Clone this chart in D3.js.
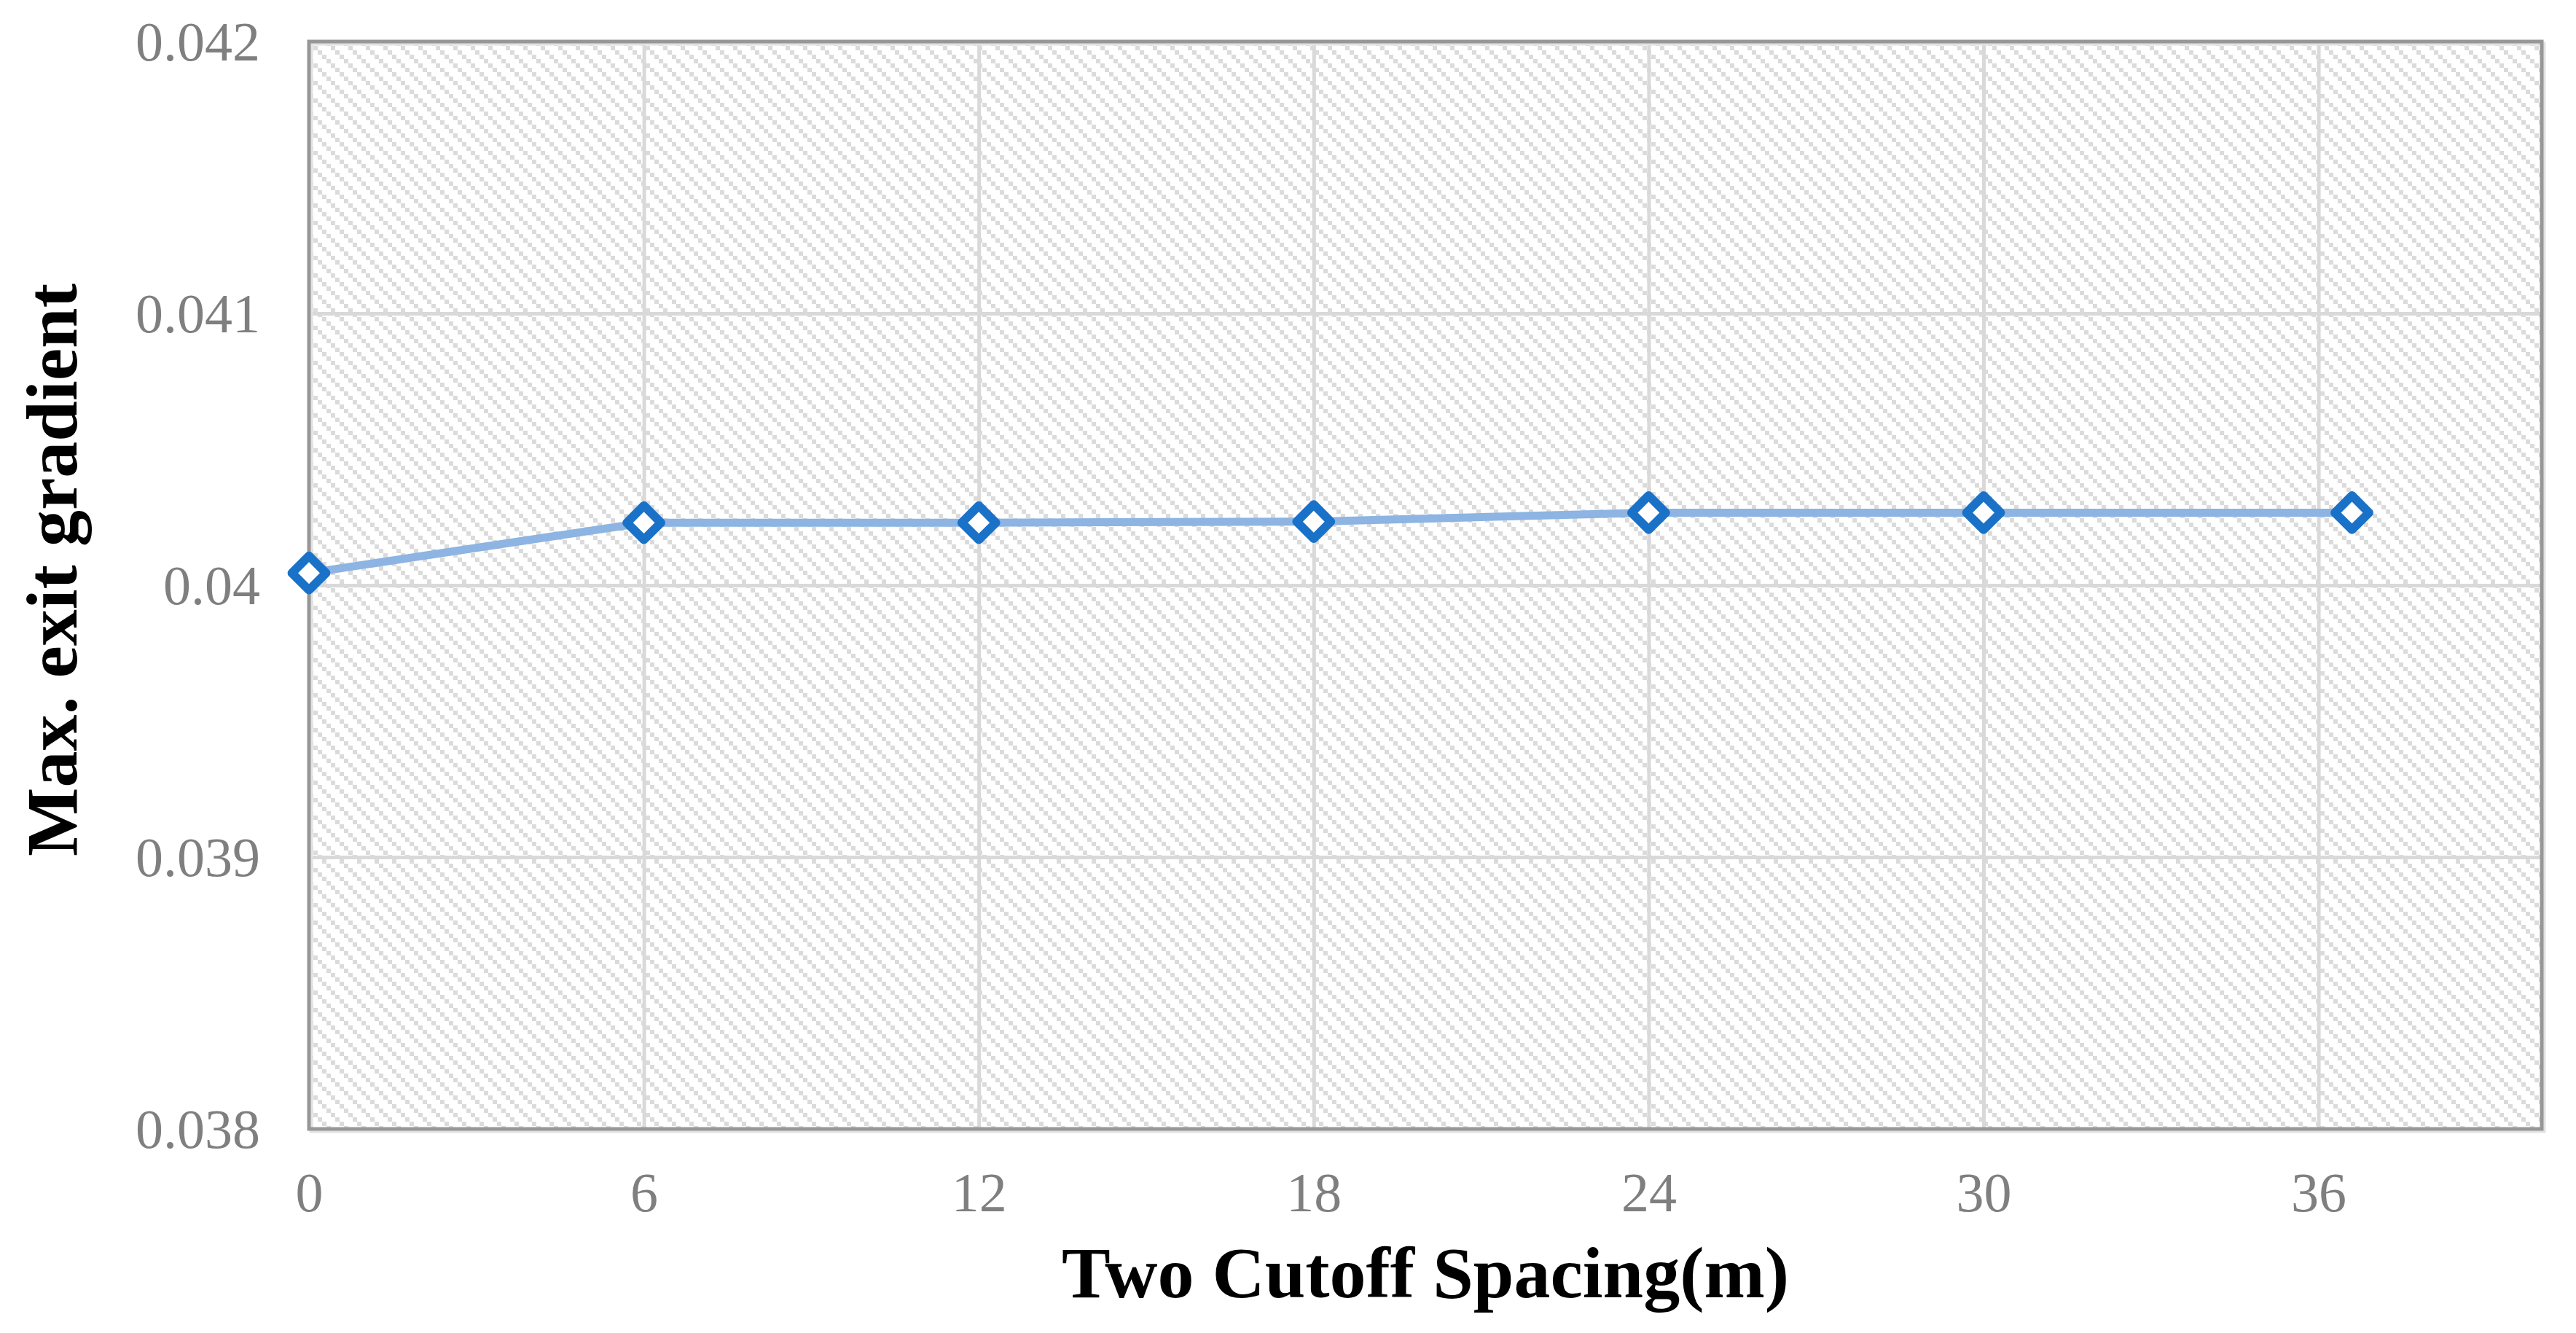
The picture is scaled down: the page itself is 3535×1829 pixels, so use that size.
<!DOCTYPE html>
<html>
<head>
<meta charset="utf-8">
<script src="https://cdnjs.cloudflare.com/ajax/libs/d3/7.8.5/d3.min.js"></script>
<style>
  body { margin: 0; background: #fff; }
  text { font-family: "Liberation Serif", "Times New Roman", serif; }
</style>
</head>
<body>
<div id="graph"></div>
<script>
// chart data
const spacing = [0, 6, 12, 18, 24, 30, 36.6];
const exitGradient = [0.040045, 0.040230, 0.040230, 0.040234, 0.040267, 0.040267, 0.040267];
const xTicks = [0, 6, 12, 18, 24, 30, 36];
const yTicks = [0.038, 0.039, 0.040, 0.041, 0.042];
const yTickLabels = ["0.038", "0.039", "0.04", "0.041", "0.042"];

const w = 3535;
const h = 1829;
const plotLeft = 424, plotRight = 3488, plotTop = 57, plotBottom = 1549;

const xScale = d3.scaleLinear().domain([0, 40]).range([plotLeft, plotRight]);
const yScale = d3.scaleLinear().domain([0.038, 0.042]).range([plotBottom, plotTop]);

const svg = d3.select("#graph")
              .append("svg")
              .attr("width", w)
              .attr("height", h);

svg.append("rect").attr("width", w).attr("height", h).attr("fill", "#fff");

// hatched plot background
const pattern = svg.append("defs")
                   .append("pattern")
                   .attr("id", "hatch")
                   .attr("patternUnits", "userSpaceOnUse")
                   .attr("x", plotLeft).attr("y", plotTop)
                   .attr("width", 24).attr("height", 24);
pattern.append("rect").attr("width", 24).attr("height", 24).attr("fill", "#fff");
[0, 6, 12, 18].forEach((o) => {
  pattern.append("rect").attr("x", o).attr("y", o).attr("width", 6).attr("height", 6).attr("fill", "#dbdbdb");
});

svg.append("rect")
   .attr("x", plotLeft).attr("y", plotTop)
   .attr("width", plotRight - plotLeft).attr("height", plotBottom - plotTop)
   .attr("fill", "url(#hatch)");

const xAxis = d3.axisBottom(xScale)
                .tickValues(xTicks)
                .tickSize(-(plotBottom - plotTop))
                .tickPadding(59)
                .tickFormat(d3.format("d"));

const yAxis = d3.axisLeft(yScale)
                .tickValues(yTicks)
                .tickSize(-(plotRight - plotLeft))
                .tickPadding(67)
                .tickFormat((d, i) => yTickLabels[i]);

const gx = svg.append("g")
              .attr("id", "x-axis")
              .attr("transform", "translate(0, " + plotBottom + ")")
              .call(xAxis);

const gy = svg.append("g")
              .attr("id", "y-axis")
              .attr("transform", "translate(" + plotLeft + ", 0)")
              .call(yAxis);

[gx, gy].forEach((g) => {
  g.select(".domain").remove();
  g.selectAll(".tick line").attr("stroke", "#d9d9d9").attr("stroke-width", 5);
  g.selectAll(".tick text")
   .attr("fill", "#7f7f7f")
   .style("font-size", "76px");
});
gy.selectAll(".tick text").attr("dy", "0.33em");

// plot border with a soft shadow
svg.append("rect")
   .attr("x", plotLeft + 3).attr("y", plotTop + 3)
   .attr("width", plotRight - plotLeft).attr("height", plotBottom - plotTop)
   .attr("fill", "none").attr("stroke", "#e2e2e2").attr("stroke-width", 5);
svg.append("rect")
   .attr("x", plotLeft).attr("y", plotTop)
   .attr("width", plotRight - plotLeft).attr("height", plotBottom - plotTop)
   .attr("fill", "none").attr("stroke", "#979797").attr("stroke-width", 5);

const points = spacing.map((d, i) => [d, exitGradient[i]]);

const line = d3.line()
               .x((d) => xScale(d[0]))
               .y((d) => yScale(d[1]));

svg.append("path")
   .datum(points)
   .attr("d", line)
   .attr("fill", "none")
   .attr("stroke", "#8db4e2")
   .attr("stroke-width", 11)
   .attr("stroke-linejoin", "round");

svg.selectAll(".marker")
   .data(points)
   .enter()
   .append("path")
   .attr("class", "marker")
   .attr("d", d3.symbol().type(d3.symbolSquare).size(1095))
   .attr("transform", (d) => "translate(" + xScale(d[0]) + "," + yScale(d[1]) + ") rotate(45)")
   .attr("fill", "#fff")
   .attr("stroke", "#1a72c8")
   .attr("stroke-width", 12)
   .attr("stroke-linejoin", "round");

svg.append("text")
   .attr("x", (plotLeft + plotRight) / 2)
   .attr("y", 1780)
   .attr("text-anchor", "middle")
   .style("font-size", "100px")
   .style("font-weight", "bold")
   .text("Two Cutoff Spacing(m)");

svg.append("text")
   .attr("transform", "translate(105, 782) rotate(-90)")
   .attr("text-anchor", "middle")
   .style("font-size", "100px")
   .style("font-weight", "bold")
   .text("Max. exit gradient");
</script>
</body>
</html>
